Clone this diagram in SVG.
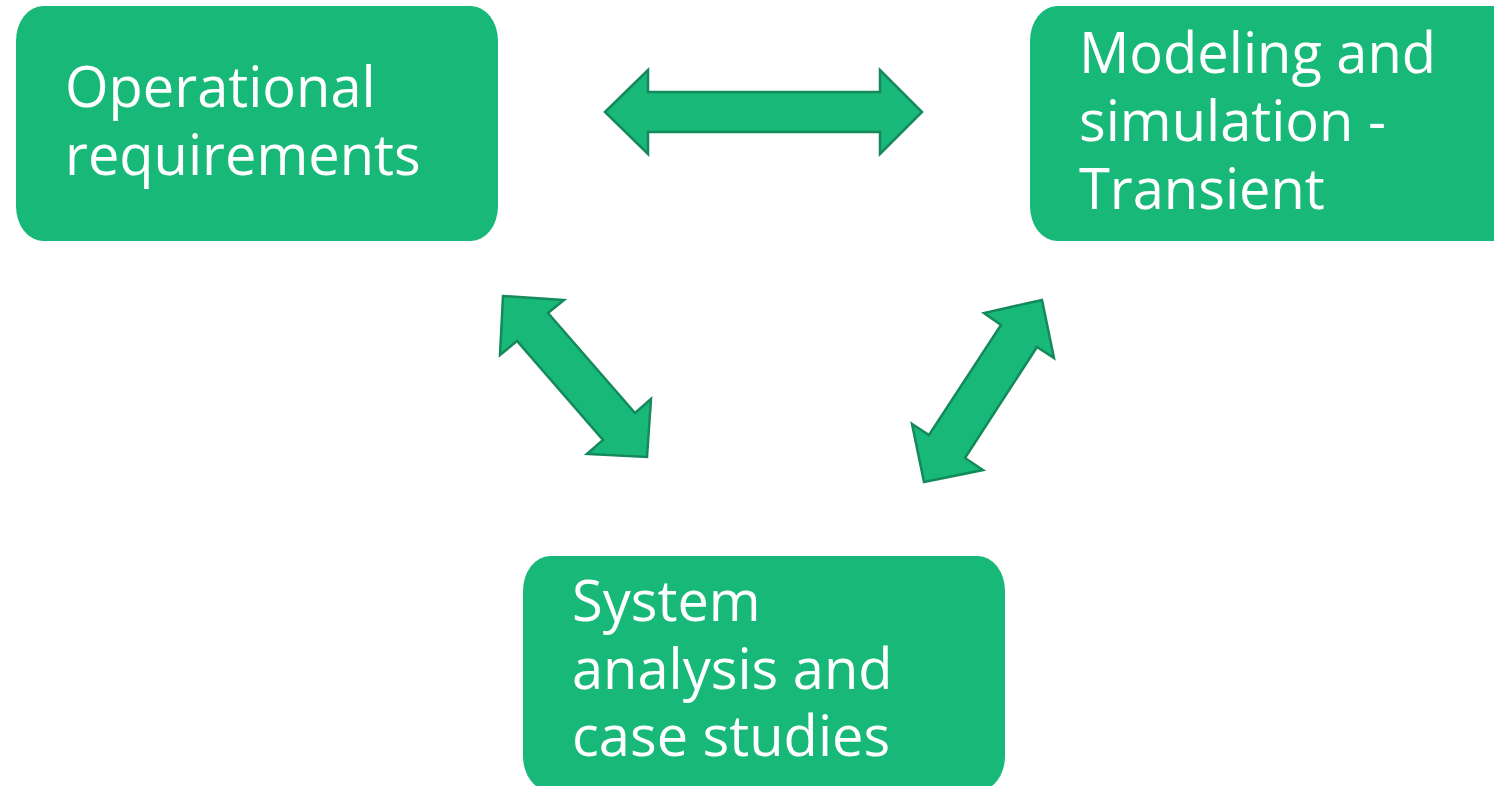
<svg xmlns="http://www.w3.org/2000/svg" width="1494" height="786" viewBox="0 0 1494 786">
<style>
.box{fill:#18B978;}
.arrow{fill:#18B978;stroke:#14895B;stroke-width:2.5;stroke-linejoin:miter;}
.lbl{font-family:"Open Sans","Liberation Sans",sans-serif;font-size:56px;fill:#FFFFFF;}
</style>
<rect width="1494" height="786" fill="#FFFFFF"/>
<g id="connectors">
<polygon class="arrow" points="605,112 648,70 648,92 880,92 880,70 922,112 880,154 880,132 648,132 648,154"/>
<polygon class="arrow" points="503,296 564,300 548,313 635,413 651,399 647,457 587,454 603,440 517,341 500,355"/>
<polygon class="arrow" points="1042,300 1054,358 1037,347 965,458 983,470 924,482 912,424 929,435 1001,325 984,313"/>
</g>
<g id="node-operational">
<rect class="box" x="16" y="6" width="482" height="235" rx="27" ry="35"/>
<text class="lbl" x="65" y="107">Operational</text>
<text class="lbl" x="65" y="175">requirements</text>
</g>
<g id="node-modeling">
<rect class="box" x="1030" y="6" width="490" height="235" rx="27" ry="35"/>
<text class="lbl" x="1079" y="73">Modeling and</text>
<text class="lbl" x="1079" y="141">simulation -</text>
<text class="lbl" x="1079" y="209">Transient</text>
</g>
<g id="node-system">
<rect class="box" x="523" y="556" width="482" height="235" rx="27" ry="35"/>
<text class="lbl" x="572" y="621">System</text>
<text class="lbl" x="572" y="689">analysis and</text>
<text class="lbl" x="572" y="756">case studies</text>
</g>
</svg>
